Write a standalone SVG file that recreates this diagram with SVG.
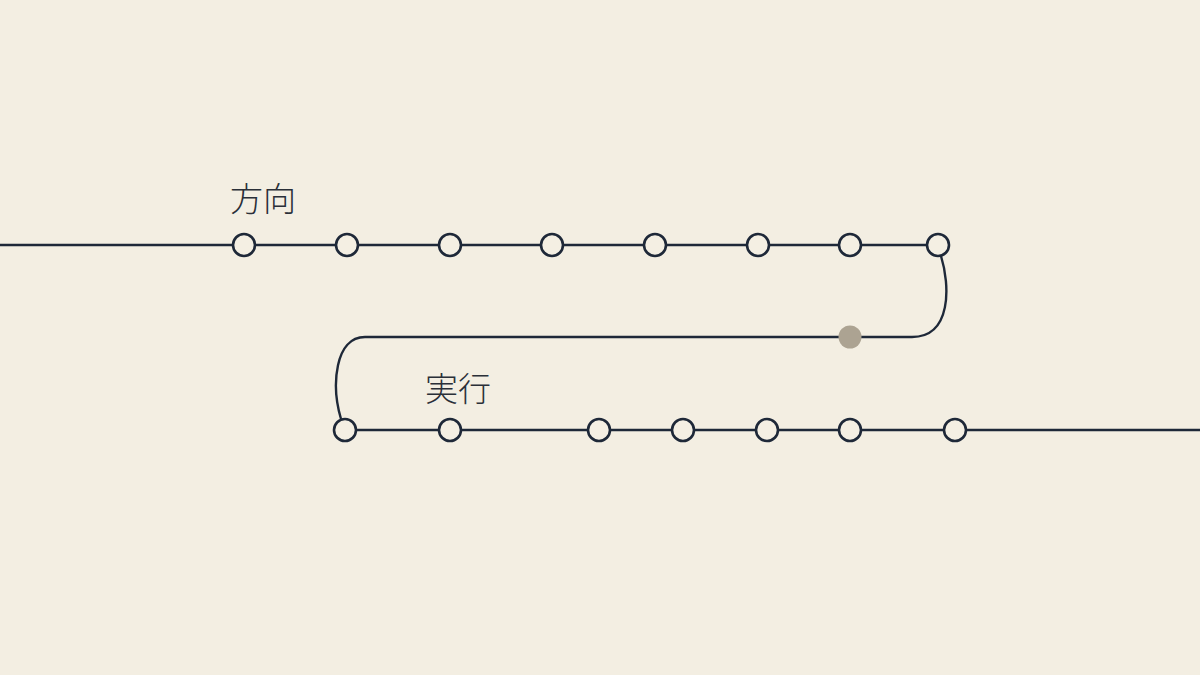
<svg xmlns="http://www.w3.org/2000/svg" width="1200" height="675" viewBox="0 0 1200 675">
<style>
.ln{fill:none;stroke:#1e2838;stroke-width:2.4}
.st{fill:#f4efe3;stroke:#1e2838;stroke-width:2.6}
.lb{font-family:"Noto Sans CJK JP","Noto Sans CJK SC",sans-serif;font-size:33px;font-weight:300;fill:#2a2f38}
</style>
<rect width="1200" height="675" fill="#f3eee2"/>
<g id="connectors">
<path class="ln" d="M0 245 H938"/>
<path class="ln" d="M941 256 C950 285 952 337 912 337 H365 C335 337 331 385 341 419"/>
<path class="ln" d="M345 430 H1200"/>
</g>
<g id="label-direction"><text class="lb" x="230" y="211">方向</text></g>
<g id="label-execution"><text class="lb" x="425" y="401">実行</text></g>
<g id="stops-top">
<circle class="st" cx="244" cy="245" r="11"/>
<circle class="st" cx="347" cy="245" r="11"/>
<circle class="st" cx="450" cy="245" r="11"/>
<circle class="st" cx="552" cy="245" r="11"/>
<circle class="st" cx="655" cy="245" r="11"/>
<circle class="st" cx="758" cy="245" r="11"/>
<circle class="st" cx="850" cy="245" r="11"/>
<circle class="st" cx="938" cy="245" r="11"/>
</g>
<g id="current"><circle cx="850" cy="337" r="11.5" fill="#aca392"/></g>
<g id="stops-bottom">
<circle class="st" cx="345" cy="430" r="11"/>
<circle class="st" cx="450" cy="430" r="11"/>
<circle class="st" cx="599" cy="430" r="11"/>
<circle class="st" cx="683" cy="430" r="11"/>
<circle class="st" cx="767" cy="430" r="11"/>
<circle class="st" cx="850" cy="430" r="11"/>
<circle class="st" cx="955" cy="430" r="11"/>
</g>
</svg>
